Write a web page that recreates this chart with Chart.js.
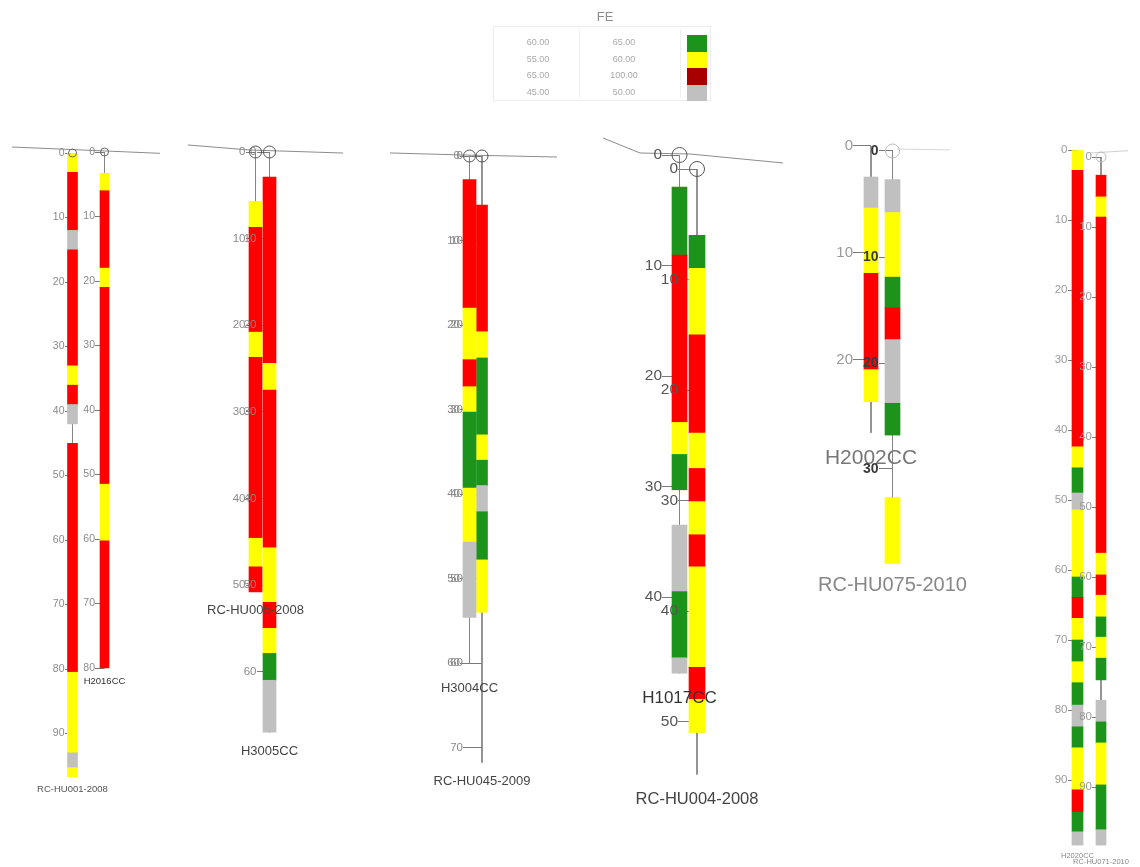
<!DOCTYPE html>
<html>
<head>
<meta charset="utf-8">
<title>FE drill hole section</title>
<script src="https://cdn.jsdelivr.net/npm/chart.js@4.4.1/dist/chart.umd.min.js"></script>
<style>
  html, body { margin: 0; padding: 0; background: #ffffff; }
  #wrap { position: relative; width: 1140px; height: 867px; overflow: hidden; font-family: 'Liberation Sans', Arial, sans-serif; }
  #sec { position: absolute; left: 0; top: 0; }
  #feTitle { position: absolute; left: 575px; top: 9px; width: 60px; text-align: center; font-size: 13px; color: #8c8c8c; }
  #feBox { position: absolute; left: 493px; top: 26px; width: 218px; height: 75px; border: 1px solid #ededed; box-sizing: border-box; }
  #feBox .vline { position: absolute; top: 2px; bottom: 2px; width: 1px; background: #eeeeee; }
  #feBox .cell { position: absolute; height: 16px; line-height: 16px; text-align: center; font-size: 9px; color: #a9a9a9; }
  #feBox .sw { position: absolute; width: 20px; }
</style>
</head>
<body>
<div id="wrap">
  <canvas id="sec" width="1140" height="867"></canvas>
  <div id="feTitle">FE</div>
  <div id="feBox"><div class="vline" style="left:85px"></div><div class="vline" style="left:186px"></div></div>
</div>
<script>
// ---- FE grade classes ----
const FE_COLORS = { G: '#1c941c', Y: '#ffff00', R: '#ff0000', S: '#c0c0c0' };

// legend rows: lower bound, upper bound, swatch
const legendFrom = ['60.00', '55.00', '65.00', '45.00'];
const legendTo = ['65.00', '60.00', '100.00', '50.00'];
const legendSwatch = ['#1c941c', '#ffff00', '#a80000', '#c0c0c0'];

// ---- assay intervals per hole: [from m, to m, FE class] ----
const rcHu001_2008 = [[0,3,'Y'],[3,12,'R'],[12,15,'S'],[15,33,'R'],[33,36,'Y'],[36,39,'R'],[39,42,'S'],[45,80.5,'R'],[80.5,93,'Y'],[93,95.3,'S'],[95.3,96.7,'Y']];
const h2016cc = [[3.3,6,'Y'],[6,18,'R'],[18,21,'Y'],[21,51.5,'R'],[51.5,60.3,'Y'],[60.3,80,'R']];
const rcHu005_2008 = [[5.7,8.7,'Y'],[8.7,20.8,'R'],[20.8,23.7,'Y'],[23.7,44.6,'R'],[44.6,47.9,'Y'],[47.9,50.8,'R']];
const h3005cc = [[2.9,24.4,'R'],[24.4,27.5,'Y'],[27.5,45.7,'R'],[45.7,52,'Y'],[52,55,'R'],[55,57.9,'Y'],[57.9,61,'G'],[61,67,'S']];
const h3004cc = [[2.8,18,'R'],[18,24.1,'Y'],[24.1,27.3,'R'],[27.3,30.3,'Y'],[30.3,39.3,'G'],[39.3,45.7,'Y'],[45.7,54.6,'S']];
const rcHu045_2009 = [[5.8,20.8,'R'],[20.8,23.9,'Y'],[23.9,33,'G'],[33,36,'Y'],[36,39,'G'],[39,42.1,'S'],[42.1,47.8,'G'],[47.8,54,'Y']];
const h1017cc = [[2.9,9.05,'G'],[9.05,24.2,'R'],[24.2,27.1,'Y'],[27.1,30.3,'G'],[33.5,39.5,'S'],[39.5,45.5,'G'],[45.5,46.9,'S']];
const rcHu004_2008 = [[6,9,'G'],[9,15,'Y'],[15,23.9,'R'],[23.9,27.1,'Y'],[27.1,30.1,'R'],[30.1,33.1,'Y'],[33.1,36,'R'],[36,45.1,'Y'],[45.1,48,'R'],[48,51,'Y']];
const h2002cc = [[2.9,5.8,'S'],[5.8,11.9,'Y'],[11.9,20.9,'R'],[20.9,23.9,'Y']];
const rcHu075_2010 = [[2.7,5.8,'S'],[5.8,11.9,'Y'],[11.9,14.8,'G'],[14.8,17.8,'R'],[17.8,23.8,'S'],[23.8,26.8,'G'],[32.7,38.9,'Y']];
const h2020cc = [[0,2.9,'Y'],[2.9,42.4,'R'],[42.4,45.4,'Y'],[45.4,49,'G'],[49,51.4,'S'],[51.4,61,'Y'],[61,63.9,'G'],[63.9,66.9,'R'],[66.9,70,'Y'],[70,73.1,'G'],[73.1,76.1,'Y'],[76.1,79.3,'G'],[79.3,82.4,'S'],[82.4,85.4,'G'],[85.4,91.4,'Y'],[91.4,94.6,'R'],[94.6,97.4,'G'],[97.4,99.3,'S']];
const rcHu071_2010 = [[2.6,5.7,'R'],[5.7,8.6,'Y'],[8.6,56.6,'R'],[56.6,59.7,'Y'],[59.7,62.6,'R'],[62.6,65.7,'Y'],[65.7,68.6,'G'],[68.6,71.6,'Y'],[71.6,74.7,'G'],[77.6,80.7,'S'],[80.7,83.7,'G'],[83.7,89.7,'Y'],[89.7,96.1,'G'],[96.1,98.3,'S']];

const holeNames = ['RC-HU001-2008','H2016CC','RC-HU005-2008','H3005CC','H3004CC','RC-HU045-2009','H1017CC','RC-HU004-2008','H2002CC','RC-HU075-2010','H2020CC','RC-HU071-2010'];
const holeIntervals = [rcHu001_2008, h2016cc, rcHu005_2008, h3005cc, h3004cc, rcHu045_2009, h1017cc, rcHu004_2008, h2002cc, rcHu075_2010, h2020cc, rcHu071_2010];
const holeDepths = [96.7, 80, 50.8, 67, 60, 71.8, 46.9, 54.8, 26.8, 38.9, 99.3, 98.3];
const holeLastTick = [90, 80, 50, 60, 60, 70, 40, 50, 20, 30, 90, 90];
const depthTickStep = 10;

// ground surface profiles: section position and depth relative to the first hole of each pair
const surfaceHole = [0, 2, 4, 6, 8, 10];
const surfaceX = [[12,160],[188,250,343],[390,463,557],[603,640,690,783],[897,950],[1090,1140]];
const surfaceD = [[-0.93,0.05],[-0.81,-0.23,0.12],[-0.36,-0.12,0.12],[-1.54,-0.18,-0.09,0.72],[0.28,0.37],[0.43,0]];

// ---- drawing layout of each hole (section position, depth scale, label offset, styles) ----
const F = "'Liberation Sans', Arial, sans-serif";
const holeLayout = [
  { x: 72.5,  y0: 153, k: 6.45,  bar: 10, lr: 8,  tf: 10.5, tw: 'normal', tc: '#8a8a8a', nf: 9.5, nc: '#555555', gap: 13, cr: 4,   cc: '#666666', surf: '#8c8c8c' },
  { x: 104.5, y0: 152, k: 6.45,  bar: 9,  lr: 9.5,tf: 10.5, tw: 'normal', tc: '#8a8a8a', nf: 9.5, nc: '#333333', gap: 13, cr: 4,   cc: '#666666' },
  { x: 255.5, y0: 152, k: 8.66,  bar: 13, lr: 10, tf: 11.5, tw: 'normal', tc: '#8a8a8a', nf: 13,  nc: '#444444', gap: 18, cr: 6,   cc: '#555555', surf: '#8c8c8c' },
  { x: 269.5, y0: 152, k: 8.66,  bar: 13, lr: 13, tf: 11.5, tw: 'normal', tc: '#8a8a8a', nf: 13,  nc: '#444444', gap: 19, cr: 6,   cc: '#555555' },
  { x: 469.5, y0: 156, k: 8.45,  bar: 13, lr: 9.5,tf: 11.5, tw: 'normal', tc: '#8a8a8a', nf: 13,  nc: '#444444', gap: 25, cr: 6,   cc: '#555555', surf: '#8c8c8c' },
  { x: 482,   y0: 156, k: 8.45,  bar: 11, lr: 19, tf: 11.5, tw: 'normal', tc: '#8a8a8a', nf: 13,  nc: '#444444', gap: 19, cr: 6,   cc: '#555555' },
  { x: 679.5, y0: 155, k: 11.05, bar: 15, lr: 17.5,tf: 15.5,tw: 'normal', tc: '#555555', nf: 17,  nc: '#333333', gap: 25, cr: 7.5, cc: '#555555', surf: '#8c8c8c' },
  { x: 697,   y0: 169, k: 11.05, bar: 16, lr: 19, tf: 15.5, tw: 'normal', tc: '#555555', nf: 16.5,nc: '#444444', gap: 25, cr: 7.5, cc: '#555555' },
  { x: 871,   y0: 146, k: 10.7,  bar: 14, lr: 18, tf: 15,   tw: 'normal', tc: '#9a9a9a', nf: 21,  nc: '#777777', gap: 25, cr: 0,   cc: '#bbbbbb', surf: '#d6d6d6' },
  { x: 892.5, y0: 151, k: 10.6,  bar: 15, lr: 14, tf: 14,   tw: 'bold',   tc: '#3a3a3a', nf: 20,  nc: '#888888', gap: 22, cr: 7,   cc: '#bbbbbb' },
  { x: 1077.5,y0: 150, k: 7.0,   bar: 11, lr: 10, tf: 11.5, tw: 'normal', tc: '#9a9a9a', nf: 7.5, nc: '#888888', gap: 11, cr: 0,   cc: '#bbbbbb', surf: '#cfcfcf' },
  { x: 1101,  y0: 157, k: 7.0,   bar: 10, lr: 9,  tf: 11.5, tw: 'normal', tc: '#9a9a9a', nf: 7.5, nc: '#888888', gap: 17, cr: 5,   cc: '#bbbbbb' }
];

const PAD_T = 20, PAD_B = 20, PAD_X = 12, W = 1140, H = 867;
const AREA_H = H - PAD_T - PAD_B;

// ---- legend ----
const box = document.getElementById('feBox');
legendFrom.forEach((v, i) => {
  const top = 7 + i * 16.5;
  const a = document.createElement('div');
  a.className = 'cell'; a.style.left = '0px'; a.style.width = '88px'; a.style.top = top + 'px'; a.textContent = v;
  const b = document.createElement('div');
  b.className = 'cell'; b.style.left = '88px'; b.style.width = '84px'; b.style.top = top + 'px'; b.textContent = legendTo[i];
  const s = document.createElement('div');
  s.className = 'sw'; s.style.left = '193px'; s.style.top = (top + 1) + 'px'; s.style.height = '16.5px'; s.style.background = legendSwatch[i];
  box.appendChild(a); box.appendChild(b); box.appendChild(s);
});

// ---- scales: one depth axis per hole; labels sit left of the trace, ticks run to it ----
const scales = {
  x: { type: 'linear', min: PAD_X, max: W - PAD_X, display: false, offset: false, grid: { display: false } },
  y: { display: false }
};
holeLayout.forEach((L, i) => {
  const min = -(L.y0 - PAD_T) / L.k;
  scales['hole' + i] = {
    axis: 'y',
    type: 'linear',
    position: { x: L.x - L.lr },
    reverse: true,
    bounds: 'data',
    min: min,
    max: min + AREA_H / L.k,
    border: { display: false },
    grid: { display: true, drawOnChartArea: false, drawTicks: true, tickLength: -L.lr, tickWidth: 1, tickColor: '#7a7a7a', z: 0 },
    ticks: {
      z: 1, autoSkip: false, padding: 0, color: L.tc,
      font: { family: F, size: L.tf, weight: L.tw }
    },
    afterBuildTicks: (scale) => {
      const t = [];
      for (let v = 0; v <= holeLastTick[i]; v += depthTickStep) t.push({ value: v });
      scale.ticks = t;
    }
  };
});

// ---- datasets ----
const datasets = [];
holeLayout.forEach((L, i) => {
  const axisId = 'hole' + i;
  // collar marker
  if (L.cr > 0) {
    datasets.push({
      type: 'line', yAxisID: axisId, showLine: false, order: 0,
      data: [{ x: L.x, y: 0 }],
      pointRadius: L.cr, pointStyle: 'circle', pointBorderWidth: 1,
      pointBorderColor: L.cc, pointBackgroundColor: 'rgba(255,255,255,0)'
    });
  }
  // FE intervals
  datasets.push({
    type: 'bar', yAxisID: axisId, order: 1, grouped: false,
    barThickness: L.bar, borderWidth: 0,
    data: holeIntervals[i].map(iv => ({ x: L.x, y: [iv[0], iv[1]] })),
    backgroundColor: holeIntervals[i].map(iv => FE_COLORS[iv[2]])
  });
  // hole trace
  datasets.push({
    type: 'line', yAxisID: axisId, order: 2,
    data: [{ x: L.x, y: 0 }, { x: L.x, y: holeDepths[i] }],
    borderColor: '#858585', borderWidth: 1, pointRadius: 0
  });
});
surfaceHole.forEach((h, p) => {
  datasets.push({
    type: 'line', yAxisID: 'hole' + h, order: 3,
    data: surfaceX[p].map((x, j) => ({ x: x, y: surfaceD[p][j] })),
    borderColor: holeLayout[h].surf, borderWidth: 1, pointRadius: 0, tension: 0
  });
});

// ---- hole names under each trace ----
const holeNamePlugin = {
  id: 'holeNames',
  afterDatasetsDraw(chart) {
    const ctx = chart.ctx;
    holeNames.forEach((name, i) => {
      const L = holeLayout[i];
      const ys = chart.scales['hole' + i];
      const y = ys.getPixelForValue(holeDepths[i]) + L.gap;
      ctx.save();
      ctx.font = L.nf + 'px ' + F;
      ctx.fillStyle = L.nc;
      ctx.textAlign = 'center';
      ctx.textBaseline = 'middle';
      ctx.fillText(name, chart.scales.x.getPixelForValue(L.x), y);
      ctx.restore();
    });
  }
};

new Chart(document.getElementById('sec'), {
  type: 'bar',
  data: { datasets: datasets },
  options: {
    responsive: false,
    animation: false,
    events: [],
    devicePixelRatio: 1,
    layout: { padding: { top: PAD_T, bottom: PAD_B, left: PAD_X, right: PAD_X } },
    plugins: { legend: { display: false }, tooltip: { enabled: false } },
    scales: scales
  },
  plugins: [holeNamePlugin]
});
</script>
</body>
</html>
